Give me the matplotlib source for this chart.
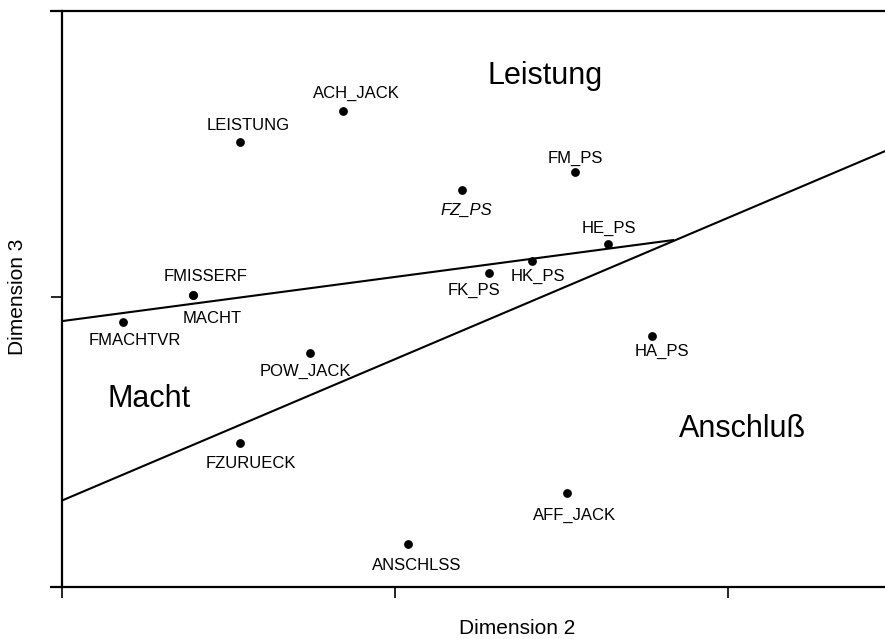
import matplotlib
matplotlib.use("Agg")
import matplotlib.pyplot as plt
from matplotlib import transforms

plt.rcParams['font.family'] = ['Liberation Sans', 'DejaVu Sans']

# ---- data (Dimension 2, Dimension 3) ----
names = ["LEISTUNG", "ACH_JACK", "FM_PS", "FZ_PS", "HE_PS", "HK_PS", "FK_PS",
         "FMISSERF", "MACHT", "FMACHTVR", "POW_JACK", "HA_PS", "FZURUECK",
         "AFF_JACK", "ANSCHLSS"]
dim2 = [-0.465, -0.156, 0.541, 0.201, 0.640, 0.411, 0.282,
        -0.607, -0.607, -0.817, -0.255, 0.772, -0.465, 0.517, 0.039]
dim3 = [0.465, 0.559, 0.375, 0.321, 0.159, 0.108, 0.072,
        0.006, 0.006, -0.075, -0.168, -0.117, -0.438, -0.589, -0.742]
italic = [False, False, False, True, False, False, False,
          False, False, False, False, False, False, False, False]

# boundary lines (x, y endpoints)
line1_x = [-0.997, 0.835]
line1_y = [-0.072, 0.171]
line2_x = [-0.997, 1.471]
line2_y = [-0.610, 0.438]

regions = ["Leistung", "Macht", "Anschluß"]
region_x = [0.450, -0.740, 1.042]
region_y = [0.640, -0.330, -0.420]

xticks = [-1, 0, 1]
yticks = [0]

# label offsets in pixels (dx right, dy down) relative to point, to caps centre
label_off_px = [(7.5, -18), (13.5, -19), (0.5, -15), (4, 18.5), (0.5, -17),
                (6, 14), (-15, 15.5), (13, -20.5), (19, 21.5), (12, 17.5),
                (-5, 17), (9.5, 14), (11, 19.5), (7, 20.5), (9, 19.5)]

W, H = 885, 639
fig = plt.figure(figsize=(W / 100, H / 100), dpi=100)
ax = fig.add_axes([62 / W, 1 - 587 / H, 1 - 62 / W, (587 - 11) / H])
ax.set_xlim(-1.0, 1.471)
ax.set_ylim(-0.871, 0.859)

for s in ["right"]:
    ax.spines[s].set_visible(False)
for s in ["left", "top", "bottom"]:
    ax.spines[s].set_linewidth(1.6)
    ax.spines[s].set_color("black")

# extend top and bottom lines a bit to the left of the left axis
ax.plot([-12 / 823, 0], [1, 1], transform=ax.transAxes, color="black",
        lw=1.6, clip_on=False, solid_capstyle="butt")
ax.plot([-12 / 823, 0], [0, 0], transform=ax.transAxes, color="black",
        lw=1.6, clip_on=False, solid_capstyle="butt")

ax.set_xticks(xticks)
ax.set_yticks(yticks)
ax.set_xticklabels([])
ax.set_yticklabels([])
ax.tick_params(axis="both", direction="out", length=8, width=1.2, color="black")

ax.plot(line1_x, line1_y, color="black", lw=1.5)
ax.plot(line2_x, line2_y, color="black", lw=1.5)

ax.scatter(dim2, dim3, s=28, color="black", zorder=3)

for n, x, y, it, (dx, dy) in zip(names, dim2, dim3, italic, label_off_px):
    ax.annotate(n, (x, y), xytext=(dx * 0.72, -(dy + 6) * 0.72),
                textcoords="offset points", ha="center", va="baseline",
                fontsize=12, style="italic" if it else "normal")

for r, x, y in zip(regions, region_x, region_y):
    ax.text(x, y, r, fontsize=22, ha="center", va="baseline")

fig.text(517 / W, 1 - 628 / H, "Dimension 2", fontsize=15, ha="center", va="center")
fig.text(18 / W, 1 - 297 / H, "Dimension 3", fontsize=15, ha="center", va="center",
         rotation=90)

fig.savefig("out.png", dpi=100)
